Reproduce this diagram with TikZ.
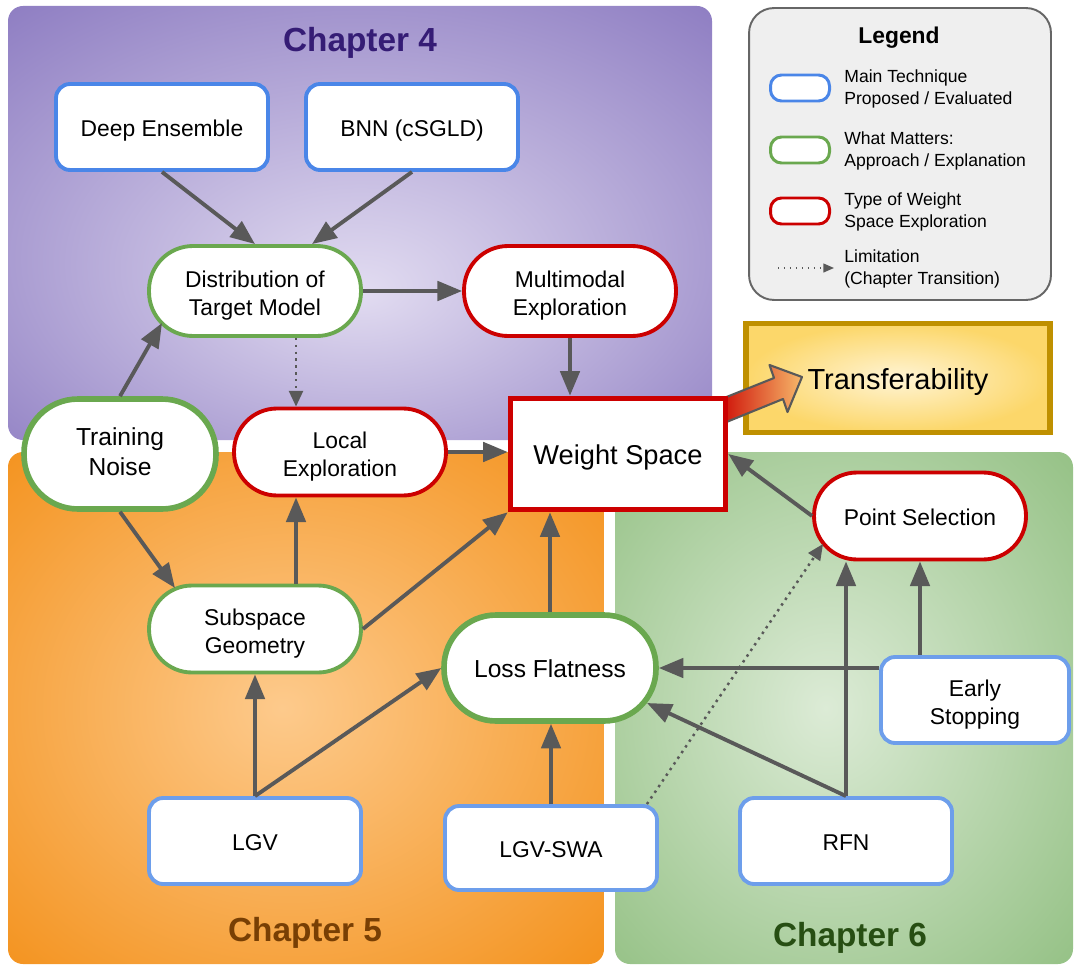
\documentclass[tikz,border=0pt]{standalone}
\usepackage{fontspec}
\setmainfont{Liberation Sans}
\usetikzlibrary{arrows.meta,calc}
\definecolor{purpleOut}{HTML}{8C7BC1}
\definecolor{purpleIn}{HTML}{E2DCF1}
\definecolor{orangeOut}{HTML}{F38F17}
\definecolor{orangeIn}{HTML}{FDCA8C}
\definecolor{greenOut}{HTML}{91BF81}
\definecolor{greenIn}{HTML}{DCEBD6}
\definecolor{techblue}{HTML}{4A86E8}
\definecolor{techblueL}{HTML}{6D9EEB}
\definecolor{mgreen}{HTML}{6AA84F}
\definecolor{ered}{HTML}{CC0000}
\definecolor{arrgray}{HTML}{595959}
\definecolor{goldB}{HTML}{BF9000}
\definecolor{goldIn}{HTML}{FFF4D4}
\definecolor{goldOut}{HTML}{FCD76A}
\definecolor{legFill}{HTML}{EFEFEF}
\definecolor{legBorder}{HTML}{666666}
\definecolor{chapA}{HTML}{351C75}
\definecolor{chapB}{HTML}{783F04}
\definecolor{chapC}{HTML}{274E13}
\definecolor{bigRed}{HTML}{D0180C}
\definecolor{bigOrange}{HTML}{F7B86A}
\pgfdeclareradialshading{purpsh}{\pgfpoint{0bp}{-8bp}}{color(0bp)=(purpleIn); color(38bp)=(purpleOut); color(50bp)=(purpleOut)}
\pgfdeclareradialshading{orgsh}{\pgfpoint{-2bp}{0bp}}{color(0bp)=(orangeIn); color(38bp)=(orangeOut); color(50bp)=(orangeOut)}
\pgfdeclareradialshading{grnsh}{\pgfpoint{-2bp}{0bp}}{color(0bp)=(greenIn); color(38bp)=(greenOut); color(50bp)=(greenOut)}
\newcommand\nodeTop{\rule{0pt}{1em}}
\newcommand\nodeTopM{\rule{0pt}{1.1em}}
\newcommand\nodeBot{\rule[-0.2em]{0pt}{0.2em}}
\tikzset{
  basenode/.style={fill=white, align=center, inner sep=2pt, font=\fontsize{13}{16}\selectfont, execute at begin node=\nodeTop, execute at end node=\nodeBot},
  tech/.style={basenode, draw=techblue, line width=2.2pt, rounded corners=0.28cm, minimum width=4.24cm, minimum height=1.72cm},
  techl/.style={tech, draw=techblueL},
  matter/.style={basenode, draw=mgreen, line width=2.2pt, rounded corners=0.86cm, minimum width=4.24cm, minimum height=1.74cm},
  explo/.style={basenode, draw=ered, line width=2.2pt, rounded corners=0.86cm, minimum width=4.24cm, minimum height=1.74cm},
  arr/.style={draw=arrgray, line width=2.2pt, -{Triangle[length=14pt,width=11pt]}},
  lim/.style={draw=arrgray, line width=1.4pt, dash pattern=on 1.4pt off 2.5pt, -{Triangle[length=9pt,width=8pt]}},
  limleg/.style={draw=arrgray, line width=0.8pt, dash pattern=on 0.8pt off 2.6pt, -{Triangle[length=6pt,width=5pt]}},
  swatch/.style={fill=white, line width=1.7pt, rounded corners=0.22cm, minimum width=1.18cm, minimum height=0.52cm, inner sep=0pt},
  legtext/.style={anchor=west, align=left, inner sep=0pt, font=\fontsize{10}{12.2}\selectfont},
  chap/.style={font=\bfseries\fontsize{19}{22}\selectfont},
}
\begin{document}
\begin{tikzpicture}[x=0.02cm,y=-0.02cm]
\useasboundingbox (0,0) rectangle (1074,966);
% chapter regions
\shade[rounded corners=0.3cm, shading=purpsh] (8,6) rectangle (712,440);
\shade[rounded corners=0.3cm, shading=orgsh] (8,452) rectangle (604,964);
\shade[rounded corners=0.3cm, shading=grnsh] (615,452) rectangle (1073,964);
\node[chap, text=chapA] (c4) at (360,43) {Chapter 4};
\node[chap, text=chapB] (c5) at (305,933) {Chapter 5};
\node[chap, text=chapC] (c6) at (850,938) {Chapter 6};
% legend
\node[draw=legBorder, fill=legFill, line width=1.1pt, rounded corners=0.5cm, minimum width=6.04cm, minimum height=5.84cm] (leg) at (900,154) {};
\node[font=\bfseries\fontsize{13}{15}\selectfont] (legt) at (899,38) {Legend};
\node[swatch, draw=techblue] (sw1) at (800,88) {};
\node[swatch, draw=mgreen] (sw2) at (800,150) {};
\node[swatch, draw=ered] (sw3) at (800,211) {};
\node[legtext] (lt1) at (844,89) {Main Technique\\Proposed / Evaluated};
\node[legtext] (lt2) at (844,151) {What Matters:\\Approach / Explanation};
\node[legtext] (lt3) at (844,212) {Type of Weight\\Space Exploration};
\node[legtext] (lt4) at (844,269) {Limitation\\(Chapter Transition)};
\coordinate (la) at (778,268);
\coordinate (lb) at (834,268);
\draw[limleg] (la) -- (lb);
% transferability
\node[draw=goldB, line width=3pt, inner color=goldIn, outer color=goldOut, minimum width=6.08cm, minimum height=2.18cm, font=\fontsize{16.5}{20}\selectfont, execute at begin node=\nodeTop, execute at end node=\nodeBot] (tr) at (898,378) {Transferability};
\shadedraw[draw=arrgray, line width=1.2pt, line join=round, left color=bigRed, right color=bigOrange]
  (724,398) -- (774,378) -- (769.5,365) -- (802,377) -- (787.5,412) -- (783,399) -- (724,423) -- cycle;
% nodes
\node[tech] (de) at (162,127) {Deep Ensemble};
\node[tech] (bnn) at (412,127) {BNN (cSGLD)};
\node[matter, minimum height=1.8cm, rounded corners=0.88cm] (dist) at (255,291) {\nodeTopM Distribution of\\Target Model\nodeBot};
\node[explo, minimum height=1.8cm, rounded corners=0.88cm] (mm) at (570,291) {\nodeTopM Multimodal\\Exploration\nodeBot};
\node[matter, line width=3.2pt, minimum width=3.84cm, minimum height=2.2cm, rounded corners=1.08cm, font=\fontsize{14}{16.8}\selectfont] (tn) at (120,454) {Training\\Noise};
\node[explo] (le) at (340,452) {\nodeTopM Local\\Exploration\nodeBot};
\node[basenode, draw=ered, line width=3.2pt, minimum width=4.3cm, minimum height=2.22cm, font=\fontsize{15.5}{18}\selectfont] (ws) at (618,454) {Weight Space};
\node[explo] (ps) at (920,516) {Point Selection};
\node[matter] (sub) at (255,629) {\nodeTopM Subspace\\Geometry\nodeBot};
\node[matter, line width=3.2pt, minimum height=2.12cm, rounded corners=1.04cm, font=\fontsize{14}{17}\selectfont] (lf) at (550,668) {Loss Flatness};
\node[techl, minimum width=3.76cm] (es) at (975,700) {\nodeTopM Early\\Stopping\nodeBot};
\node[techl] (lgv) at (255,841) {LGV};
\node[techl, minimum height=1.68cm] (swa) at (551,848) {LGV-SWA};
\node[techl] (rfn) at (846,841) {RFN};
% connectors
\draw[arr] (de.south) -- (dist.north);
\draw[arr] (bnn.south) -- ($(dist.north)+(57,0)$);
\draw[arr] (dist.east) -- (mm.west);
\draw[lim] ($(dist.south)+(41,0)$) -- ($(le.north)+(-44,0)$);
\draw[arr] (mm.south) -- ($(ws.north)+(-48,0)$);
\draw[arr] (tn.north) -- ($(dist.center)+(-93,32)$);
\draw[arr] (tn.south) -- ($(sub.center)+(-80,-41)$);
\draw[arr] (le.east) -- (le.east -| ws.west);
\draw[arr] ($(sub.north)+(41,0)$) -- ($(le.south)+(-44,0)$);
\draw[arr] (sub.east) -- (ws.south west);
\draw[arr] (lf.north) -- (lf.north |- ws.south);
\draw[arr] (lgv.north) -- (sub.south);
\draw[arr] (lgv.north) -- (lf.west);
\draw[arr] (swa.north) -- (swa.north |- lf.south);
\draw[lim] ($(swa.north east)+(-12,0)$) -- ($(ps.center)+(-97,28)$);
\draw[arr] (rfn.north) -- ($(lf.center)+(97,35)$);
\draw[arr] (rfn.north) -- (rfn.north |- ps.south);
\draw[arr] ($(es.west)+(0,-32)$) -- (lf.east);
\draw[arr] ($(es.north)+(-55,0)$) -- (ps.south);
\draw[arr] (ps.west) -- (ws.east);
\end{tikzpicture}
\end{document}
